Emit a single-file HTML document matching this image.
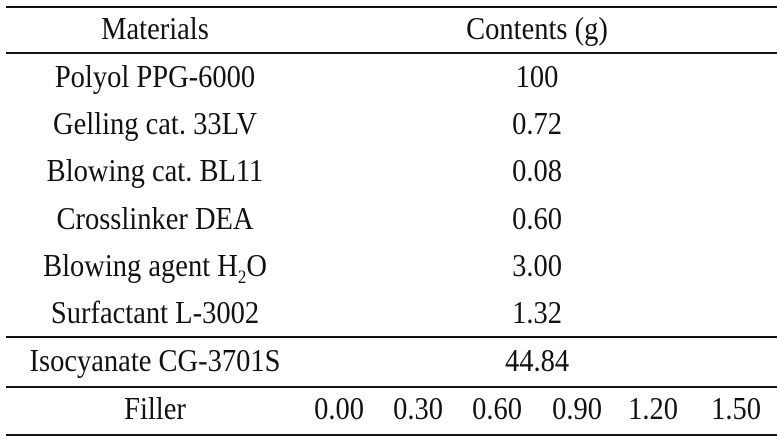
<!DOCTYPE html>
<html><head><meta charset="utf-8"><style>
body{margin:0;width:777px;height:439px;background:#fff;position:relative;overflow:hidden;font-family:"Liberation Serif",serif;font-size:28.5px;color:#111}
.l{position:absolute;left:6px;right:0;height:2px;background:#111}
.t{position:absolute;height:40px;line-height:40px;white-space:nowrap;transform:translateX(-50%) scaleY(1.1)}
</style></head><body>
<div class="l" style="top:6px"></div>
<div class="l" style="top:52px"></div>
<div class="l" style="top:336px"></div>
<div class="l" style="top:386px"></div>
<div class="l" style="top:434px"></div>
<div class="t" style="left:155px;top:10px">Materials</div>
<div class="t" style="left:537px;top:10px">Contents (g)</div>
<div class="t" style="left:155px;top:58px">Polyol PPG-6000</div>
<div class="t" style="left:537px;top:58px">100</div>
<div class="t" style="left:155px;top:105px">Gelling cat. 33LV</div>
<div class="t" style="left:537px;top:105px">0.72</div>
<div class="t" style="left:155px;top:152px">Blowing cat. BL11</div>
<div class="t" style="left:537px;top:152px">0.08</div>
<div class="t" style="left:155px;top:200px">Crosslinker DEA</div>
<div class="t" style="left:537px;top:200px">0.60</div>
<div class="t" style="left:155px;top:247px">Blowing agent H<sub style="font-size:17px;line-height:0">2</sub>O</div>
<div class="t" style="left:537px;top:247px">3.00</div>
<div class="t" style="left:155px;top:294px">Surfactant L-3002</div>
<div class="t" style="left:537px;top:294px">1.32</div>
<div class="t" style="left:155px;top:342px">Isocyanate CG-3701S</div>
<div class="t" style="left:537px;top:342px">44.84</div>
<div class="t" style="left:155px;top:390px">Filler</div>
<div class="t" style="left:339px;top:390px">0.00</div>
<div class="t" style="left:418px;top:390px">0.30</div>
<div class="t" style="left:497px;top:390px">0.60</div>
<div class="t" style="left:577px;top:390px">0.90</div>
<div class="t" style="left:653px;top:390px">1.20</div>
<div class="t" style="left:736px;top:390px">1.50</div>
</body></html>
